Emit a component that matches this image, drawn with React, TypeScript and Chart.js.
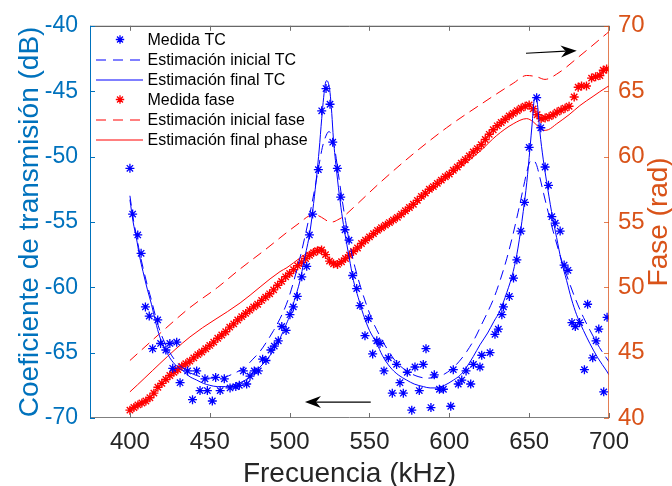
import React, { useEffect, useRef } from 'react';
import { Chart, registerables } from 'chart.js';

Chart.register(...registerables);

// ---------- axis ticks & labels ----------
const xTicks = [400, 450, 500, 550, 600, 650, 700];
const dbTicks = [-70, -65, -60, -55, -50, -45, -40];
const radTicks = [40, 45, 50, 55, 60, 65, 70];
const xTitle = 'Frecuencia (kHz)';
const leftTitle = 'Coeficiente de transmisión (dB)';
const rightTitle = 'Fase (rad)';
const legendLabels = [
  'Medida TC',
  'Estimación inicial TC',
  'Estimación final TC',
  'Medida fase',
  'Estimación inicial fase',
  'Estimación final phase',
];

// ---------- Medida TC (dB) ----------
const tcMeasFreq = [
  400, 401.7, 404.9, 407, 409.7, 412.1, 414.2, 417.4, 419.2, 422.5, 425, 426.8, 429.3, 431.4, 436.1,
  439.2, 441.8, 443.9, 447, 448.5, 451.6, 453.7, 456.5, 459.1, 462.7, 466.3, 468.5, 471, 473.1, 475.2,
  477.9, 480.4, 483.1, 485.2, 488.3, 490.4, 492.9, 495.1, 497.8, 500.2, 502.3, 504.8, 507.6, 510.7,
  512.4, 514.4, 518, 520.1, 522.8, 525.3, 527, 529.9, 532, 534.7, 537.2, 539.5, 542, 544.1, 547.2,
  549.3, 552, 554.6, 556.6, 559.1, 561.8, 564.3, 567, 569.1, 571.2, 573.7, 576.5, 578.5, 581.2, 583.7,
  585.4, 588.5, 590.6, 593.8, 596.3, 600.9, 602.5, 605.6, 607.8, 610.5, 613.4, 615.1, 619.2, 620.3,
  625.5, 628.6, 630.7, 632.9, 633.9, 637.6, 640.2, 642.3, 644.8, 647.1, 650, 654.7, 657.3, 660, 662.1,
  664.2, 666.3, 669.4, 671.9, 674.3, 676.8, 678.9, 681.6, 684.6, 686.6, 689.8, 691.9, 693.6, 696.7, 698.8,
];
const tcMeasDb = [
  -50.9, -54.4, -56.0, -57.4, -61.5, -62.2, -64.7, -62.5, -64.3, -64.8, -64.3, -66.2, -64.2, -67.3, -66.4,
  -68.6, -66.4, -67.9, -67.0, -67.9, -68.7, -66.9, -67.9, -67.0, -67.7, -67.6, -67.5, -66.4, -67.4, -66.8,
  -66.4, -66.4, -65.5, -65.6, -64.8, -64.5, -64.1, -63.0, -63.3, -62.1, -61.5, -60.7, -59.2, -58.4,
  -56.0, -54.4, -51.0, -46.5, -44.8, -46.0, -48.9, -50.9, -53.1, -55.6, -56.4, -59.1, -60.1, -61.4, -63.7,
  -62.4, -65.1, -64.1, -64.3, -66.4, -65.4, -68.1, -65.9, -67.3, -68.1, -66.5, -69.4, -66.1, -67.9, -65.9,
  -64.7, -69.2, -66.7, -67.8, -67.8, -69.1, -66.3, -67.4, -67.1, -66.4, -67.4, -65.9, -66.1, -65.2,
  -65.0, -63.6, -63.2, -62.1, -61.5, -60.7, -59.3, -57.9, -55.7, -53.5, -49.3, -45.5, -47.8, -50.8, -52.2,
  -54.6, -55.1, -55.7, -58.3, -58.7, -62.7, -63.0, -62.7, -66.3, -61.3, -65.4, -64.1, -63.2, -68.0, -62.3,
];

// ---------- Estimación inicial TC (dB) ----------
const tcInitFreq = [
  400, 402, 404, 406, 408.2, 411, 413.5, 416, 418.7, 422, 425, 429, 433.4, 437, 441.8, 446, 450, 455,
  460, 465, 469, 473, 477, 481.5, 486, 490, 494, 498, 501, 504, 507, 510, 513, 516, 518.5, 520.5, 522.5,
  524.5, 526.5, 528.5, 530.5, 532.5, 535, 538, 541, 544.5, 548, 552, 556, 561, 566, 571, 576, 581, 586,
  591, 596, 601, 606, 611, 616, 620, 624, 628, 632, 636, 640, 643, 646, 648.5, 650.5, 652.5, 654.5, 656.5,
  659, 662, 665, 668, 671, 675, 679, 684, 689, 694, 700,
];
const tcInitDb = [
  -53.0, -54.7, -56.0, -57.3, -58.5, -59.9, -61.0, -62.2, -63.3, -64.3, -65.0, -65.7, -66.2, -66.5, -66.75,
  -66.9, -66.95, -66.95, -66.85, -66.6, -66.35, -66.0, -65.5, -64.9, -64.1, -63.3, -62.4, -61.3, -60.2,
  -58.9, -57.5, -55.9, -54.2, -52.3, -50.6, -49.3, -48.5, -48.1, -48.4, -49.6, -51.3, -53.0, -54.9, -56.9,
  -58.5, -60.0, -61.3, -62.6, -63.6, -64.7, -65.6, -66.2, -66.6, -66.85, -66.95, -66.9, -66.7, -66.3,
  -65.7, -64.9, -63.9, -62.9, -61.9, -60.8, -59.4, -57.8, -55.9, -54.3, -52.6, -51.2, -50.4, -50.3, -50.6,
  -51.5, -52.8, -54.3, -55.7, -57.0, -58.2, -59.6, -60.9, -62.3, -63.5, -64.6, -65.7,
];

// ---------- Estimación final TC (dB) ----------
const tcFinalFreq = [
  400, 402, 404, 406, 408.2, 411, 413.5, 416, 418.7, 422, 425, 429, 433.4, 437, 441.8, 446, 450, 455,
  460, 465, 469, 473, 477, 481.5, 486, 490, 494, 498, 500.3, 503, 506.5, 509, 512.8, 515, 517, 518.5,
  520.1, 521.3, 522.4, 523.3, 524.3, 525.3, 526.4, 527.4, 529.5, 531.6, 533.7, 535.8, 538, 540, 543,
  546.2, 550, 554.6, 558, 562.9, 568, 573.3, 578, 583.8, 588, 592.1, 597, 602.6, 607, 610.9, 615, 619.2,
  624, 628, 631.7, 636, 640, 643, 646.3, 648.5, 650.5, 652, 653.2, 654, 655, 656.7, 658.8, 660.9, 664,
  667.2, 670, 673.5, 676.5, 679.7, 684, 688, 693, 698.5, 700,
];
const tcFinalDb = [
  -53.3, -55.0, -56.2, -57.6, -58.8, -60.2, -61.3, -62.6, -63.8, -64.7, -65.4, -66.0, -66.4, -66.8, -67.1,
  -67.35, -67.5, -67.6, -67.6, -67.45, -67.3, -67.05, -66.7, -66.1, -65.5, -64.8, -63.9, -62.8, -62.1,
  -61.0, -59.5, -58.0, -55.7, -53.6, -51.4, -49.5, -47.1, -45.5, -44.4, -44.2, -44.4, -45.1, -46.7, -48.6,
  -51.2, -53.4, -55.2, -56.7, -58.2, -59.5, -60.8, -62.1, -63.3, -64.3, -65.2, -66.1, -66.7, -67.1, -67.4,
  -67.6, -67.7, -67.7, -67.5, -67.1, -66.7, -66.1, -65.3, -64.4, -63.5, -62.6, -61.8, -60.4, -58.8, -57.0,
  -54.2, -52.0, -49.4, -47.3, -45.6, -45.4, -45.8, -48.1, -50.2, -51.9, -54.2, -56.2, -57.9, -59.5, -60.9,
  -62.1, -63.3, -64.3, -65.4, -66.4, -66.7,
];

// ---------- Medida fase (rad) ----------
const phaseMeasFreq = [
  400, 402.5, 405, 407.5, 410, 412.5, 415, 417.5, 420, 422.5, 425, 427.5, 430, 432.5, 435, 437.5, 440,
  442.5, 445, 447.5, 450, 452.5, 455, 457.5, 460, 462.5, 465, 467.5, 470, 472.5, 475, 477.5, 480, 482.5,
  485, 487.5, 490, 492.5, 495, 497.5, 500, 502.5, 505, 507.5, 510, 512.5, 515, 517.5, 520, 522.5, 525,
  527.5, 530, 532.5, 535, 537.5, 540, 542.5, 545, 547.5, 550, 552.5, 555, 557.5, 560, 562.5, 565, 567.5,
  570, 572.5, 575, 577.5, 580, 582.5, 585, 587.5, 590, 592.5, 595, 597.5, 600, 602.5, 605, 607.5, 610,
  612.5, 615, 617.5, 620, 622.5, 625, 627.5, 630, 632.5, 635, 637.5, 640, 642.5, 645, 647.5, 650, 652.5,
  655, 657.5, 660, 662.5, 665, 667.5, 670, 672.5, 675, 678.2, 680.7, 682.8, 685.9, 689.1, 691.6, 694.3,
  696.4, 698.5,
];
const phaseMeasRad = [
  40.6, 40.8, 41.0, 41.15, 41.3, 41.55, 41.9, 42.35, 42.65, 42.95, 43.25, 43.5, 43.7, 43.95, 44.15, 44.35,
  44.6, 44.85, 45.05, 45.3, 45.55, 45.8, 46.1, 46.35, 46.6, 46.95, 47.2, 47.5, 47.75, 48.0, 48.25, 48.5,
  48.7, 49.0, 49.25, 49.5, 49.8, 50.15, 50.45, 50.8, 51.05, 51.35, 51.65, 51.9, 52.2, 52.45, 52.65, 52.8,
  52.85, 52.5, 52.0, 51.8, 51.75, 51.95, 52.2, 52.45, 52.75, 53.0, 53.35, 53.6, 53.85, 54.1, 54.35, 54.55,
  54.75, 54.95, 55.15, 55.35, 55.6, 55.85, 56.1, 56.35, 56.65, 56.95, 57.2, 57.5, 57.7, 57.95, 58.2, 58.45,
  58.65, 58.95, 59.2, 59.5, 59.75, 60.05, 60.35, 60.6, 60.9, 61.3, 61.7, 62.05, 62.35, 62.6, 62.85, 63.1,
  63.3, 63.5, 63.7, 63.85, 63.95, 63.65, 63.2, 62.9, 62.95, 63.05, 63.2, 63.4, 63.55, 63.7, 63.85, 64.55,
  65.3, 65.4, 65.4, 66.0, 66.1, 66.2, 66.6, 66.7,
];

// ---------- Estimación inicial fase (rad) ----------
const phaseInitFreq = [
  400, 420, 437.6, 455, 469, 485, 498.3, 507, 512, 516, 520, 524, 527, 530, 533.6, 540, 556.6, 577.4,
  598.3, 619.2, 640, 648.4, 654.7, 659.9, 667.2, 681.8, 698.5, 700,
];
const phaseInitRad = [
  44.4, 46.6, 48.45, 50.0, 51.4, 52.9, 54.2, 55.0, 55.45, 55.55, 55.35, 55.05, 55.0, 55.15, 55.4, 56.1,
  58.0, 60.2, 62.2, 63.95, 65.6, 66.2, 66.1, 65.9, 66.3, 67.7, 69.4, 69.55,
];

// ---------- Estimación final phase (rad) ----------
const phaseFinalFreq = [
  400, 437.6, 469, 494, 498.3, 506.6, 512, 517, 519, 521, 523.5, 526, 529, 532, 536, 546, 556.6, 567,
  577.4, 587.9, 598.3, 608.7, 619.2, 629.6, 640, 648.4, 652.6, 656, 658.9, 662, 667.2, 675, 681.8, 690,
  698.5, 700,
];
const phaseFinalRad = [
  42.0, 46.2, 48.8, 51.2, 51.5, 52.25, 52.7, 53.0, 53.05, 52.85, 52.4, 51.95, 51.75, 51.85, 52.2, 53.3,
  54.3, 55.15, 56.15, 57.3, 58.3, 59.35, 60.4, 61.6, 62.5, 62.9, 62.65, 62.25, 62.0, 62.05, 62.5, 63.2,
  63.9, 64.6, 65.3, 65.4,
];

// ---------- annotation arrows (data coordinates) ----------
const arrowUpperFreq = [648, 679.8];
const arrowUpperRad = [67.9, 68.1];
const arrowLowerFreq = [550.8, 509.6];
const arrowLowerDb = [-68.78, -68.78];

const FONT = "'Liberation Sans', Arial, Helvetica, sans-serif";
const BLUE = '#0000FF';
const RED = '#FF0000';
const AX_BLUE = '#0072BD';
const AX_ORANGE = '#D95319';
const AX_GRAY = '#262626';

const zip = (xs: number[], ys: number[]) => xs.map((x, i) => ({ x, y: ys[i] }));

function drawStar(ctx: CanvasRenderingContext2D, cx: number, cy: number, r: number, color: string) {
  const d = r * Math.SQRT1_2;
  ctx.save();
  ctx.strokeStyle = color;
  ctx.lineWidth = 1.3;
  ctx.beginPath();
  ctx.moveTo(cx - r, cy); ctx.lineTo(cx + r, cy);
  ctx.moveTo(cx, cy - r); ctx.lineTo(cx, cy + r);
  ctx.moveTo(cx - d, cy - d); ctx.lineTo(cx + d, cy + d);
  ctx.moveTo(cx - d, cy + d); ctx.lineTo(cx + d, cy - d);
  ctx.stroke();
  ctx.restore();
}

function drawArrow(ctx: CanvasRenderingContext2D, x0: number, y0: number, x1: number, y1: number) {
  const len = Math.hypot(x1 - x0, y1 - y0);
  const ux = (x1 - x0) / len, uy = (y1 - y0) / len;
  const nx = -uy, ny = ux;
  const L = 16, W = 6, notchL = 11;
  const bx = x1 - L * ux, by = y1 - L * uy;
  const mx = x1 - notchL * ux, my = y1 - notchL * uy;
  ctx.save();
  ctx.strokeStyle = '#000';
  ctx.lineWidth = 1.2;
  ctx.beginPath();
  ctx.moveTo(x0, y0);
  ctx.lineTo(mx, my);
  ctx.stroke();
  ctx.fillStyle = '#000';
  ctx.beginPath();
  ctx.moveTo(x1, y1);
  ctx.lineTo(bx + W * nx, by + W * ny);
  ctx.lineTo(mx, my);
  ctx.lineTo(bx - W * nx, by - W * ny);
  ctx.closePath();
  ctx.fill();
  ctx.restore();
}

const overlayPlugin = {
  id: 'overlay',
  afterDraw(chart: any) {
    const { ctx, chartArea: a, scales } = chart;
    const sx = scales.x, sl = scales.y, sr = scales.y1;
    const T = 5;
    ctx.save();
    ctx.lineWidth = 1;
    // frame
    ctx.strokeStyle = '#404040';
    ctx.beginPath();
    ctx.moveTo(a.left, a.top + 0.5); ctx.lineTo(a.right, a.top + 0.5);
    ctx.stroke();
    ctx.strokeStyle = '#7f7f7f';
    ctx.beginPath();
    ctx.moveTo(a.left, a.bottom - 0.5); ctx.lineTo(a.right, a.bottom - 0.5);
    ctx.stroke();
    // x ticks (top & bottom)
    xTicks.forEach((v) => {
      const px = Math.round(sx.getPixelForValue(v)) + 0.5;
      ctx.strokeStyle = '#6f6f6f';
      ctx.beginPath();
      ctx.moveTo(px, a.bottom); ctx.lineTo(px, a.bottom - T);
      ctx.moveTo(px, a.top); ctx.lineTo(px, a.top + T);
      ctx.stroke();
    });
    // left axis
    ctx.strokeStyle = AX_BLUE;
    ctx.beginPath();
    ctx.moveTo(a.left + 0.5, a.top); ctx.lineTo(a.left + 0.5, a.bottom);
    ctx.stroke();
    dbTicks.forEach((v) => {
      const py = Math.round(sl.getPixelForValue(v)) + 0.5;
      ctx.beginPath();
      ctx.moveTo(a.left, py); ctx.lineTo(a.left + T, py);
      ctx.stroke();
    });
    // right axis
    ctx.strokeStyle = 'rgba(217,83,25,0.75)';
    ctx.beginPath();
    ctx.moveTo(a.right - 0.5, a.top); ctx.lineTo(a.right - 0.5, a.bottom);
    ctx.stroke();
    radTicks.forEach((v) => {
      const py = Math.round(sr.getPixelForValue(v)) + 0.5;
      ctx.beginPath();
      ctx.moveTo(a.right, py); ctx.lineTo(a.right - T, py);
      ctx.stroke();
    });

    // titles
    ctx.font = `28px ${FONT}`;
    ctx.textAlign = 'center';
    ctx.textBaseline = 'alphabetic';
    ctx.fillStyle = AX_GRAY;
    ctx.fillText(xTitle, (a.left + a.right) / 2, 482);
    const midY = (a.top + a.bottom) / 2;
    ctx.save();
    ctx.translate(38, midY);
    ctx.rotate(-Math.PI / 2);
    ctx.fillStyle = AX_BLUE;
    ctx.fillText(leftTitle, 0, 0);
    ctx.restore();
    ctx.save();
    ctx.translate(667, midY);
    ctx.rotate(-Math.PI / 2);
    ctx.fillStyle = AX_ORANGE;
    ctx.fillText(rightTitle, 0, 0);
    ctx.restore();

    // arrows
    drawArrow(
      ctx,
      sx.getPixelForValue(arrowUpperFreq[0]), sr.getPixelForValue(arrowUpperRad[0]),
      sx.getPixelForValue(arrowUpperFreq[1]), sr.getPixelForValue(arrowUpperRad[1])
    );
    drawArrow(
      ctx,
      sx.getPixelForValue(arrowLowerFreq[0]), sl.getPixelForValue(arrowLowerDb[0]),
      sx.getPixelForValue(arrowLowerFreq[1]), sl.getPixelForValue(arrowLowerDb[1])
    );

    // legend
    const x0 = a.left + 6, x1 = a.left + 53, xm = a.left + 30, xt = a.left + 57.5;
    ctx.font = `16px ${FONT}`;
    ctx.textAlign = 'left';
    ctx.textBaseline = 'middle';
    legendLabels.forEach((label, i) => {
      const y = a.top + 13.7 + i * 20;
      const color = i < 3 ? BLUE : RED;
      const kind = i % 3;
      if (kind === 0) {
        drawStar(ctx, xm, y, 4.2, color);
      } else {
        ctx.save();
        ctx.strokeStyle = color;
        ctx.lineWidth = 1;
        ctx.setLineDash(kind === 1 ? [10, 7] : []);
        ctx.beginPath();
        ctx.moveTo(x0, y + 0.5); ctx.lineTo(x1, y + 0.5);
        ctx.stroke();
        ctx.restore();
      }
      ctx.fillStyle = '#000';
      ctx.fillText(label, xt, y + 1);
    });
    ctx.restore();
  },
};

export default function App() {
  const canvasRef = useRef<HTMLCanvasElement | null>(null);

  useEffect(() => {
    if (!canvasRef.current) return;
    const lineBase = {
      type: 'line' as const,
      showLine: true,
      pointRadius: 0,
      borderWidth: 1,
      fill: false,
      cubicInterpolationMode: 'monotone' as const,
    };
    const chart = new Chart(canvasRef.current, {
      type: 'scatter',
      data: {
        datasets: [
          {
            label: legendLabels[0],
            data: zip(tcMeasFreq, tcMeasDb),
            yAxisID: 'y',
            pointStyle: 'star',
            pointRadius: 4.5,
            borderWidth: 1.3,
            borderColor: BLUE,
            backgroundColor: 'transparent',
            showLine: false,
            order: 0,
          },
          {
            ...lineBase,
            label: legendLabels[1],
            data: zip(tcInitFreq, tcInitDb),
            yAxisID: 'y',
            borderColor: BLUE,
            borderDash: [10, 6],
            order: 1,
          },
          {
            ...lineBase,
            label: legendLabels[2],
            data: zip(tcFinalFreq, tcFinalDb),
            yAxisID: 'y',
            borderColor: BLUE,
            order: 1,
          },
          {
            label: legendLabels[3],
            data: zip(phaseMeasFreq, phaseMeasRad),
            yAxisID: 'y1',
            pointStyle: 'star',
            pointRadius: 4.5,
            borderWidth: 1.4,
            borderColor: RED,
            backgroundColor: 'transparent',
            showLine: false,
            order: 2,
          },
          {
            ...lineBase,
            label: legendLabels[4],
            data: zip(phaseInitFreq, phaseInitRad),
            yAxisID: 'y1',
            borderColor: RED,
            borderDash: [10, 6],
            order: 3,
          },
          {
            ...lineBase,
            label: legendLabels[5],
            data: zip(phaseFinalFreq, phaseFinalRad),
            yAxisID: 'y1',
            borderColor: RED,
            order: 3,
          },
        ] as any,
      },
      options: {
        animation: false,
        responsive: true,
        maintainAspectRatio: false,
        layout: { padding: { top: 23, left: 0, right: 0, bottom: 0 } },
        plugins: {
          legend: { display: false },
          tooltip: { enabled: false },
        },
        scales: {
          x: {
            type: 'linear',
            min: 375,
            max: 700,
            grid: { display: false, drawTicks: false },
            border: { display: false },
            afterBuildTicks: (s: any) => { s.ticks = xTicks.map((v) => ({ value: v })); },
            afterFit: (s: any) => { s.height = 68; },
            ticks: {
              autoSkip: false,
              maxRotation: 0,
              padding: 10,
              color: AX_GRAY,
              font: { family: FONT, size: 24 },
            },
          },
          y: {
            type: 'linear',
            position: 'left',
            min: -70,
            max: -40,
            grid: { display: false, drawTicks: false },
            border: { display: false },
            afterBuildTicks: (s: any) => { s.ticks = dbTicks.map((v) => ({ value: v })); },
            afterFit: (s: any) => { s.width = 90; },
            ticks: {
              autoSkip: false,
              padding: 12,
              color: AX_BLUE,
              font: { family: FONT, size: 23 },
            },
          },
          y1: {
            type: 'linear',
            position: 'right',
            min: 40,
            max: 70,
            grid: { display: false, drawTicks: false },
            border: { display: false },
            afterBuildTicks: (s: any) => { s.ticks = radTicks.map((v) => ({ value: v })); },
            afterFit: (s: any) => { s.width = 63; },
            ticks: {
              autoSkip: false,
              padding: 9,
              color: AX_ORANGE,
              font: { family: FONT, size: 24 },
            },
          },
        },
      } as any,
      plugins: [overlayPlugin],
    });
    return () => chart.destroy();
  }, []);

  return (
    <div style={{ position: 'absolute', left: 0, top: 0, width: 672, height: 486, background: '#fff' }}>
      <canvas ref={canvasRef} />
    </div>
  );
}
